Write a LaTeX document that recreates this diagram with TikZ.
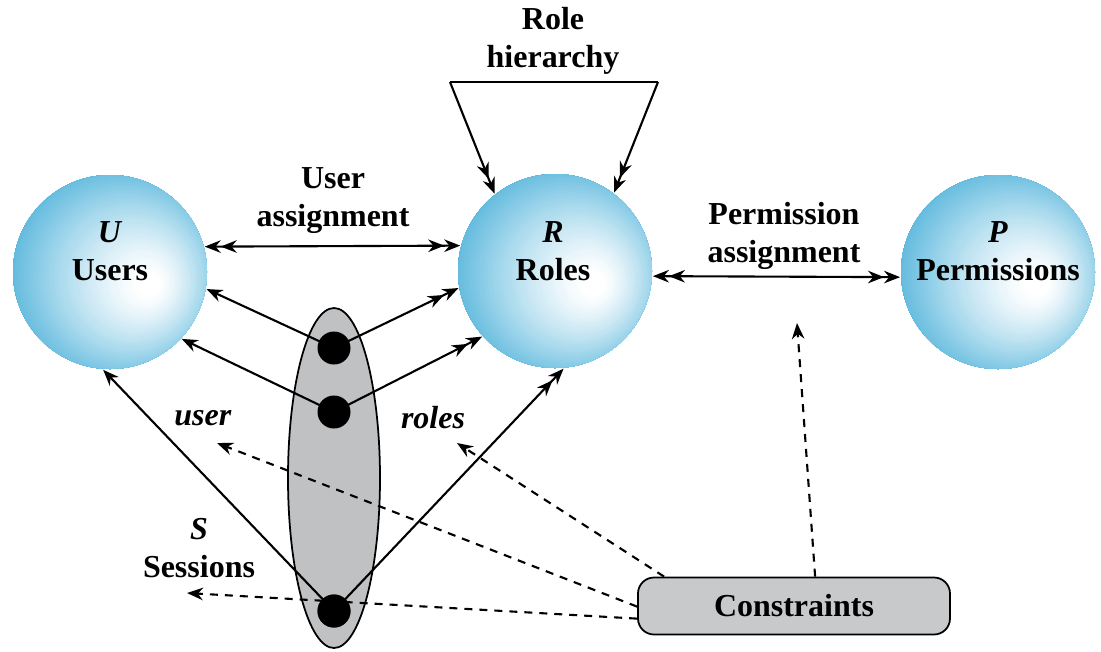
\documentclass[tikz,border=0pt]{standalone}
\usepackage{fontspec}
\setmainfont{Liberation Serif}[BoldFont={Liberation Serif Bold},BoldItalicFont={Liberation Serif Bold Italic}]
\usetikzlibrary{calc,shapes.geometric,arrows.meta}
\definecolor{sphereblue}{RGB}{30,157,208}
\definecolor{sessgray}{RGB}{192,193,194}
\definecolor{boxgray}{RGB}{200,201,202}

\begin{document}
\begin{tikzpicture}[x=0.1mm,y=-0.1mm,line width=0.6pt,
        >={Stealth[length=1.6mm,width=1.25mm]},
        every node/.style={font=\fontsize{9.1}{10.8}\selectfont\bfseries,align=center},
        rolesphere/.style={circle,minimum size=19.4mm,inner sep=0pt},
        sessdot/.style={circle,fill=black,minimum size=3.3mm,inner sep=0pt},
        many/.style={-{Stealth[length=1.6mm,width=1.25mm]Stealth[length=1.6mm,width=1.25mm]}},
        manyboth/.style={{Stealth[length=1.6mm,width=1.25mm]Stealth[length=1.6mm,width=1.25mm]}-{Stealth[length=1.6mm,width=1.25mm]Stealth[length=1.6mm,width=1.25mm]}},
        constrain/.style={->,dash pattern=on 0.8mm off 0.7mm}]
        \fill[white](0,0)rectangle(1101,651);
        \useasboundingbox(0,0)rectangle(1101,651);
        \node[rolesphere](users)at(110,272){};
        \node[rolesphere](roles)at(555,271){};
        \node[rolesphere](perms)at(998,272){};
        \foreach \s in {users,roles,perms}{
            \begin{scope}
                \clip(\s.center)circle[radius=97];
                \foreach \k in {0,...,60}{
                    \pgfmathsetmacro\dx{42*\k/60}
                    \pgfmathsetmacro\dy{14*\k/60}
                    \pgfmathsetmacro\rr{140*(1-\k/60)+0.5}
                    \pgfmathtruncatemacro\mix{100*max(0,1-\k/56)^1.3}
                    \fill[sphereblue!\mix!white]($(\s.center)+(\dx,\dy)$)circle[radius=\rr];
                }
            \end{scope}
        }
        \node(userst)at(110,251){\textit{U}\\Users};
        \node(rolest)at(553,251){\textit{R}\\Roles};
        \node(permst)at(998,251){\textit{P}\\Permissions};
        \node(hiert)at(553,41){Role\\hierarchy};
        \node(uat)at(333,201){User\\assignment};
        \node(pat)at(784,236){Permission\\assignment};
        \coordinate(hl)at(450,82);
        \coordinate(hr)at(658,82);
        \draw(hl)--(hr);
        \draw[many](hl)--(roles.128);
        \draw[many](hr)--(roles.53);
        \draw[manyboth](users.15)--(roles.165);
        \draw[manyboth](roles.-3)--(perms.183);
        \node[ellipse,draw,fill=sessgray,line width=0.5pt,minimum width=9.2mm,minimum height=34mm](sess)at(334,478){};
        \node[sessdot](s1)at(334,348){};
        \node[sessdot](s2)at(334,412){};
        \node[sessdot](s3)at(334,611){};
        \draw[->](s1.center)--(users.-10);
        \draw[many](s1.center)--(roles.190);
        \draw[->](s2.center)--(users.-43);
        \draw[many](s2.center)--(roles.222);
        \draw[->](s3.center)--(users.266);
        \draw[many](s3.center)--(roles.-85);
        \node(usert)at(203,418){\textit{user}};
        \node(rolesl)at(433,418){\textit{roles}};
        \node(sesst)at(199,548){\textit{S}\\Sessions};
        \node[draw,fill=boxgray,rounded corners=1.6mm,minimum width=31.2mm,minimum height=5.7mm,line width=0.5pt](cons)at(794,606){Constraints};
        \coordinate(usertip)at(217,443);
        \coordinate(rolestip)at(457,443);
        \coordinate(sesstip)at(187,593);
        \coordinate(permtip)at(797,323);
        \draw[constrain]($(cons.north west)+(27,0)$)--(rolestip);
        \draw[constrain]($(cons.north west)+(0,30)$)--(usertip);
        \draw[constrain]($(cons.north west)+(0,42)$)--(sesstip);
        \draw[constrain]($(cons.north west)+(178,0)$)--(permtip);
        \node[sessdot]at(s3){};
    \end{tikzpicture}
\end{document}
